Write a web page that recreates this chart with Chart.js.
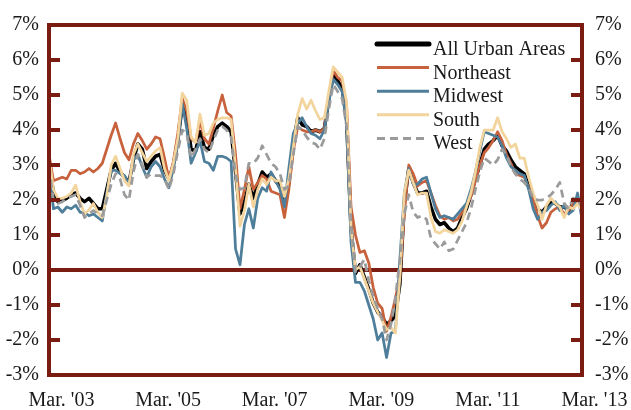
<!DOCTYPE html>
<html>
<head>
<meta charset="utf-8">
<script src="https://cdn.jsdelivr.net/npm/chart.js@4/dist/chart.umd.min.js"></script>
<style>
html,body{margin:0;padding:0;background:#ffffff;}
#wrap{position:relative;width:631px;height:410px;}
</style>
</head>
<body>
<div id="wrap"><canvas id="c" width="631" height="410"></canvas></div>
<script>
// ---- data (monthly, Mar 2003 .. Mar 2013), year-over-year % change ----
const seriesNames = ["All Urban Areas", "Northeast", "Midwest", "South", "West"];

const allUrban = [
 3.1, 2.2, 1.95, 2.0, 2.05, 2.15, 2.2, 2.05, 1.95, 2.05,
 1.9, 1.75, 1.75, 2.3, 2.85, 3.05, 2.8, 2.65, 2.5, 3.15,
 3.6, 3.45, 2.9, 3.1, 3.25, 3.3, 2.85, 2.6, 3.0, 3.7,
 4.7, 4.35, 3.45, 3.4, 3.95, 3.5, 3.45, 3.85, 4.1, 4.2,
 4.1, 3.95, 2.8, 1.6, 1.95, 2.45, 2.05, 2.45, 2.8, 2.65,
 2.75, 2.55, 2.4, 1.95, 2.5, 3.6, 4.35, 4.15, 4.1, 3.95,
 4.0, 3.95, 4.05, 4.9, 5.55, 5.4, 5.2, 4.3, 1.2, -0.1,
 0.15, -0.2, -0.55, -0.95, -1.2, -1.35, -1.55, -1.45, -1.3, -0.4,
 1.9, 2.9, 2.5, 2.2, 2.2, 2.25, 1.8, 1.45, 1.3, 1.35,
 1.2, 1.1, 1.2, 1.5, 1.75, 2.15, 2.6, 3.0, 3.45, 3.6,
 3.7, 3.85, 3.55, 3.4, 3.15, 2.95, 2.85, 2.75, 2.4, 2.05,
 1.75, 1.65, 1.8, 1.95, 1.9, 1.8, 1.8, 1.7, 1.9, 2.0, 1.85
];
const northeast = [
 3.3, 2.55, 2.6, 2.65, 2.6, 2.85, 2.85, 2.75, 2.8, 2.9,
 2.8, 2.9, 3.05, 3.45, 3.85, 4.2, 3.75, 3.35, 3.15, 3.6,
 3.9, 3.7, 3.45, 3.6, 3.8, 3.75, 3.2, 2.6, 3.1, 3.9,
 4.9, 4.55, 3.75, 3.65, 4.25, 3.75, 3.6, 4.05, 4.55, 5.0,
 4.5, 4.4, 3.3, 1.75, 2.3, 2.95, 2.3, 2.5, 2.7, 2.6,
 2.25, 2.2, 2.15, 1.5, 2.3, 3.4, 4.1, 4.0, 3.95, 3.95,
 4.0, 3.95, 4.05, 5.0, 5.7, 5.5, 5.4, 4.7, 1.8, 1.0,
 0.5, 0.55, 0.2, -0.5, -0.95, -1.1, -1.75, -1.35, -0.8, -0.2,
 1.6, 3.0, 2.75, 2.4, 2.5, 2.55, 2.2, 1.85, 1.55, 1.45,
 1.5, 1.4, 1.45, 1.65, 1.85, 2.1, 2.55, 3.0, 3.35, 3.5,
 3.7, 3.95, 3.7, 3.3, 3.05, 2.75, 2.7, 2.65, 2.35, 2.0,
 1.55, 1.2, 1.35, 1.65, 1.75, 1.8, 1.6, 1.7, 1.9, 1.95, 1.95
];
const midwest = [
 2.95, 1.75, 1.8, 1.65, 1.8, 1.75, 1.85, 1.65, 1.65, 1.55,
 1.6, 1.5, 1.4, 2.2, 2.85, 2.85, 2.75, 2.7, 2.45, 3.15,
 3.3, 2.95, 2.65, 2.95, 3.1, 2.95, 2.6, 2.35, 2.9, 3.6,
 4.75, 4.05, 3.05, 3.35, 3.7, 3.1, 3.05, 2.85, 3.25, 3.25,
 3.2, 3.1, 0.6, 0.15, 1.3, 1.75, 1.2, 2.05, 2.35, 2.25,
 2.8, 2.55, 2.3, 1.8, 2.9, 3.9, 4.2, 4.35, 4.1, 3.9,
 3.85, 3.75, 4.0, 4.8, 5.45, 5.3, 5.1, 4.2, 0.8, -0.35,
 -0.35, -0.6, -1.0, -1.4, -2.0, -1.8, -2.5, -1.8, -1.75, 0.3,
 2.2, 2.9, 2.45, 2.45, 2.6, 2.65, 2.2, 1.75, 1.5, 1.55,
 1.5, 1.45, 1.6, 1.75, 1.9, 2.3, 2.8, 3.4, 3.95, 3.9,
 3.85, 3.8, 3.55, 3.2, 2.95, 2.85, 2.75, 2.7, 2.3, 1.75,
 1.45, 1.65, 1.7, 1.85, 1.95, 1.7, 1.85, 1.6, 1.7, 2.2, 1.45
];
const south = [
 3.25, 2.3, 2.05, 2.05, 2.1, 2.2, 2.42, 1.95, 1.6, 1.72,
 1.9, 1.65, 1.5, 2.1, 3.0, 3.25, 2.9, 2.55, 2.4, 3.3,
 3.6, 3.35, 3.1, 3.25, 3.4, 3.5, 2.9, 2.55, 3.05, 3.75,
 5.05, 4.85, 3.8, 3.65, 4.45, 3.85, 3.9, 4.2, 4.3, 4.35,
 4.35, 4.3, 2.9, 1.25, 1.7, 2.45, 1.8, 2.3, 2.6, 2.45,
 2.65, 2.55, 2.55, 2.1, 2.6, 3.5, 4.45, 4.9, 4.6, 4.85,
 4.55, 4.3, 4.35, 5.1, 5.8, 5.65, 5.5, 4.8, 1.2, 0.0,
 0.1, -0.25, -0.6, -0.95, -1.2, -1.45, -1.7, -1.65, -1.8, -0.2,
 2.2, 2.85, 2.5, 2.15, 2.2, 2.2, 1.5, 1.1, 1.05, 1.15,
 1.1, 1.05, 1.15, 1.4, 1.8, 2.2, 2.8, 3.5, 4.0, 4.0,
 4.0, 4.35, 3.95, 3.75, 3.5, 3.6, 3.2, 3.2, 2.65, 2.2,
 1.85, 1.45, 1.85, 2.05, 1.9, 1.8, 1.5, 1.8, 1.75, 1.9, 1.7
];
const west = [
 2.95, 2.0, 1.9, 1.95, 2.05, 2.1, 2.15, 1.85, 1.5, 1.6,
 1.7, 1.6, 1.55, 2.0, 2.45, 2.75, 2.6, 2.15, 2.0, 2.8,
 3.3, 3.0, 2.65, 2.75, 2.7, 2.7, 2.6, 2.3, 2.75, 3.4,
 4.0, 3.9, 3.2, 3.45, 3.75, 3.45, 3.35, 3.7, 4.0, 4.1,
 4.0, 3.8, 2.7, 2.3, 2.35, 3.05, 3.05, 3.2, 3.55, 3.3,
 3.05, 2.95, 2.75, 2.3, 2.4, 3.3, 4.1, 4.0, 3.8, 3.65,
 3.6, 3.45, 3.75, 4.6, 5.3, 5.1, 4.9, 4.1, 1.3, -0.05,
 0.1, 0.3, -0.3, -0.75, -1.1, -1.4, -2.0, -1.55, -0.8, 0.3,
 1.6, 2.15, 1.65, 1.5, 1.55, 1.45, 0.9, 0.75, 0.6, 0.8,
 0.55, 0.6, 0.85, 1.1, 1.35, 1.75, 2.3, 2.8, 3.2, 3.1,
 3.0, 3.15, 3.45, 3.3, 2.95, 2.75, 2.6, 2.5, 2.35, 2.05,
 2.0, 2.0, 2.05, 2.15, 2.3, 2.5, 1.9, 1.75, 2.05, 2.0, 1.8
];

const xTickLabels = ["Mar. '03", "Mar. '05", "Mar. '07", "Mar. '09", "Mar. '11", "Mar. '13"];
const yTickValues = [-3, -2, -1, 0, 1, 2, 3, 4, 5, 6, 7];
const monthNames = ["Jan","Feb","Mar","Apr","May","Jun","Jul","Aug","Sep","Oct","Nov","Dec"];

// category labels: one per month from Mar 2003
const categories = [];
for (let k = 0; k < allUrban.length; k++) {
  const m = 2 + k;
  categories.push(monthNames[m % 12] + ". '" + String(2003 + Math.floor(m / 12)).slice(2));
}

// ---- styling ----
const MAROON = "#7A1C12";
const FONT = "'Liberation Serif', 'Times New Roman', serif";
const TEXT = "#1a1a1a";

const datasets = [
  { label: seriesNames[0], data: allUrban,  borderColor: "#000000", borderWidth: 3.5, order: 5 },
  { label: seriesNames[1], data: northeast, borderColor: "#C8623D", borderWidth: 2.75, order: 4 },
  { label: seriesNames[2], data: midwest,   borderColor: "#4E7E99", borderWidth: 2.75, order: 3 },
  { label: seriesNames[3], data: south,     borderColor: "#F2D49C", borderWidth: 2.75, order: 2 },
  { label: seriesNames[4], data: west,      borderColor: "#9B9B9B", borderWidth: 2.75, borderDash: [8, 5], order: 1 }
].map(d => Object.assign({ pointRadius: 0, tension: 0, fill: false, borderJoinStyle: "round", borderCapStyle: "butt" }, d));

const framePlugin = {
  id: "frame",
  beforeDatasetsDraw(chart) {
    const { ctx, chartArea: a, scales } = chart;
    const y0 = scales.y.getPixelForValue(0);
    ctx.save();
    ctx.strokeStyle = MAROON;
    ctx.lineWidth = 4;
    ctx.beginPath();
    ctx.moveTo(a.left, y0);
    ctx.lineTo(a.right, y0);
    ctx.stroke();
    ctx.restore();
  },
  afterDatasetsDraw(chart) {
    const { ctx, chartArea: a, scales } = chart;
    ctx.save();
    ctx.strokeStyle = MAROON;
    ctx.lineWidth = 4;
    ctx.lineCap = "butt";
    yTickValues.forEach(v => {
      const py = scales.y.getPixelForValue(v);
      ctx.beginPath();
      ctx.moveTo(a.left, py); ctx.lineTo(a.left + 11, py);
      ctx.moveTo(a.right, py); ctx.lineTo(a.right - 11, py);
      ctx.stroke();
    });
    ctx.beginPath();
    ctx.rect(a.left, a.top, a.right - a.left, a.bottom - a.top);
    ctx.stroke();
    ctx.restore();
  }
};

const legendPlugin = {
  id: "insideLegend",
  afterDraw(chart) {
    const { ctx } = chart;
    const x0 = 377, x1 = 429, tx = 433, top = 44, step = 23.6;
    ctx.save();
    chart.data.datasets.forEach((ds, i) => {
      const y = top + i * step;
      ctx.strokeStyle = ds.borderColor;
      ctx.lineWidth = i === 0 ? 5 : 3;
      ctx.lineCap = i === 0 ? "round" : "butt";
      ctx.setLineDash(ds.borderDash || []);
      ctx.beginPath();
      ctx.moveTo(x0, y);
      ctx.lineTo(x1, y);
      ctx.stroke();
      ctx.setLineDash([]);
      ctx.fillStyle = TEXT;
      ctx.font = "20px " + FONT;
      ctx.textBaseline = "alphabetic";
      ctx.textAlign = "left";
      ctx.fillText(ds.label, tx, y + 11);
    });
    ctx.restore();
  }
};

const yTicks = {
  min: -3, max: 7, stepSize: 1,
  color: TEXT,
  font: { family: FONT, size: 20 },
  callback: v => v + "%"
};

new Chart(document.getElementById("c"), {
  type: "line",
  data: { labels: categories, datasets },
  options: {
    responsive: false,
    animation: false,
    devicePixelRatio: 1,
    layout: { padding: { top: 18, left: 0, right: 0, bottom: 0 } },
    plugins: { legend: { display: false }, tooltip: { enabled: false } },
    scales: {
      x: {
        type: "category",
        offset: false,
        grid: { display: false, drawTicks: false },
        border: { display: false },
        ticks: {
          autoSkip: false,
          maxRotation: 0,
          minRotation: 0,
          padding: 14,
          labelOffset: 12.5,
          color: TEXT,
          font: { family: FONT, size: 20 },
          callback: (v, idx) => (idx % 24 === 0 ? xTickLabels[idx / 24] : null)
        },
        afterFit: s => { s.height = 35; }
      },
      y: {
        position: "left",
        min: -3, max: 7,
        grid: { display: false, drawTicks: false },
        border: { display: false },
        ticks: Object.assign({ padding: 10 }, yTicks),
        afterFit: s => { s.width = 49; }
      },
      y2: {
        position: "right",
        min: -3, max: 7,
        grid: { display: false, drawTicks: false },
        border: { display: false },
        ticks: Object.assign({ padding: 13 }, yTicks),
        afterFit: s => { s.width = 49; }
      }
    }
  },
  plugins: [framePlugin, legendPlugin]
});
</script>
</body>
</html>
